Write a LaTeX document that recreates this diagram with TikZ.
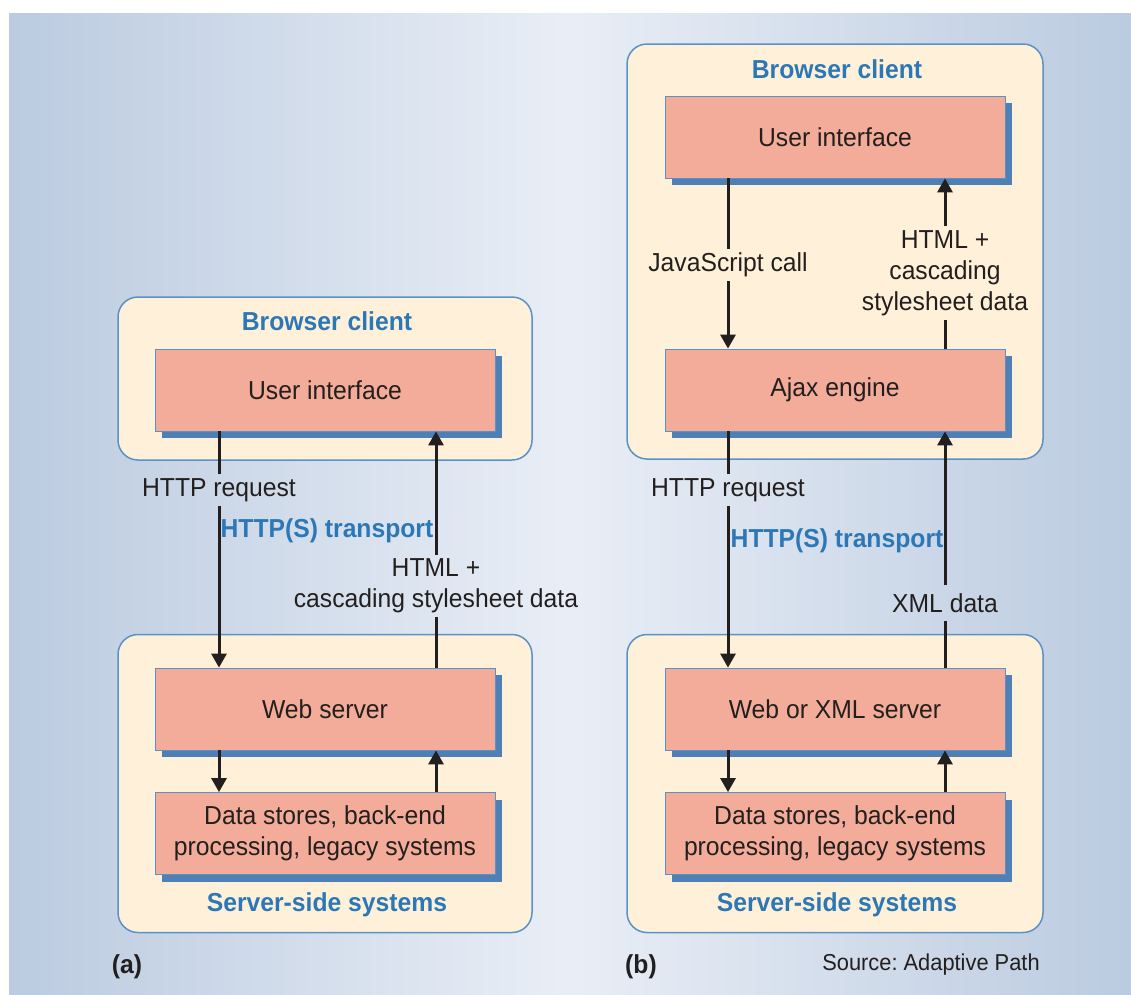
\documentclass[tikz,border=0pt]{standalone}
\usepackage{fontspec}
\setmainfont{Liberation Sans}[FakeStretch=0.95]
\usetikzlibrary{arrows.meta,shadows}
\frenchspacing

\definecolor{cream}{HTML}{FFF1D9}
\definecolor{salmon}{HTML}{F2AC99}
\definecolor{shade}{HTML}{4F80B5}
\definecolor{edge}{HTML}{5A92C6}
\definecolor{title}{HTML}{2C78B6}
\definecolor{ink}{HTML}{231F1E}
\definecolor{bgside}{HTML}{BBCBE0}
\definecolor{bgmid}{HTML}{E9EEF6}

\begin{document}
\begin{tikzpicture}[x=1pt, y=-1pt,
    lbl/.style={font=\fontsize{26}{31}\selectfont, text=ink, inner sep=4pt},
    ttl/.style={font=\fontsize{26}{31}\selectfont\bfseries, text=title, inner sep=4pt},
    panel/.style={draw=edge, line width=1.5pt, fill=cream, rounded corners=20pt},
    box/.style={lbl, draw=edge, line width=0.8pt, fill=salmon, minimum width=340, minimum height=82,
        drop shadow={shadow xshift=7pt, shadow yshift=-7pt, fill=shade, opacity=1}},
    conn/.style={draw=ink, line width=3pt},
    tip/.style={conn, -{Triangle[length=14pt, width=15pt]}}]
    \useasboundingbox (0,0) rectangle (1131,994);
    \shade[left color=bgside, right color=bgside, middle color=bgmid] (9,13) rectangle (1131,994);

    % (a) classic model
    \node[panel, minimum width=414, minimum height=163] (clia) at (325,378.5) {};
    \node[ttl] (tca) at (327,321) {Browser client};
    \node[box] (uia) at (325,390) {User interface};
    \node[panel, minimum width=414, minimum height=298] (srva) at (325,783.5) {};
    \node[box] (weba) at (325,709) {Web server};
    \node[box, align=center] (dataa) at (325,833.5) {Data stores, back-end\\processing, legacy systems};
    \node[ttl] (tsa) at (327,905) {Server-side systems};
    \node[lbl] (reqa) at (219,490) {HTTP request};
    \node[ttl] (tra) at (327,531) {HTTP(S) transport};
    \node[lbl, align=center] (resa) at (436,586) {HTML +\\cascading stylesheet data};
    \draw[conn] (uia.south -| reqa) -- (reqa.north);
    \draw[tip] (reqa.south) -- (weba.north -| reqa);
    \draw[conn] (weba.north -| resa) -- (resa.south);
    \draw[tip] (resa.north) -- (uia.south -| resa);
    \draw[tip] (weba.south -| reqa) -- (dataa.north -| reqa);
    \draw[tip] (dataa.north -| resa) -- (weba.south -| resa);
    \node[ttl, text=ink] (pa) at (127,967) {(a)};

    % (b) Ajax model
    \node[panel, minimum width=416, minimum height=415] (clib) at (835,251.5) {};
    \node[ttl] (tcb) at (837,69) {Browser client};
    \node[box] (uib) at (835,137) {User interface};
    \node[box] (ajax) at (835,390) {Ajax engine};
    \node[lbl] (jsb) at (728,265) {JavaScript call};
    \node[lbl, align=center] (htb) at (945,273) {HTML +\\cascading\\stylesheet data};
    \node[panel, minimum width=416, minimum height=298] (srvb) at (835,783.5) {};
    \node[box] (webb) at (835,709) {Web or XML server};
    \node[box, align=center] (datab) at (835,833.5) {Data stores, back-end\\processing, legacy systems};
    \node[ttl] (tsb) at (837,905) {Server-side systems};
    \node[lbl] (reqb) at (728,490) {HTTP request};
    \node[ttl] (trb) at (837,541) {HTTP(S) transport};
    \node[lbl, inner ysep=8pt] (xmlb) at (945,603) {XML data};
    \draw[conn] (uib.south -| jsb) -- (jsb.north);
    \draw[tip] (jsb.south) -- (ajax.north -| jsb);
    \draw[conn] (ajax.north -| htb) -- (htb.south);
    \draw[tip] (htb.north) -- (uib.south -| htb);
    \draw[conn] (ajax.south -| reqb) -- (reqb.north);
    \draw[tip] (reqb.south) -- (webb.north -| reqb);
    \draw[conn] (webb.north -| xmlb) -- (xmlb.south);
    \draw[tip] (xmlb.north) -- (ajax.south -| xmlb);
    \draw[tip] (webb.south -| reqb) -- (datab.north -| reqb);
    \draw[tip] (datab.north -| xmlb) -- (webb.south -| xmlb);
    \node[ttl, text=ink] (pb) at (641,967) {(b)};
    \node[lbl, font=\fontsize{23}{27}\selectfont] (src) at (931,965) {Source: Adaptive Path};
\end{tikzpicture}
\end{document}
